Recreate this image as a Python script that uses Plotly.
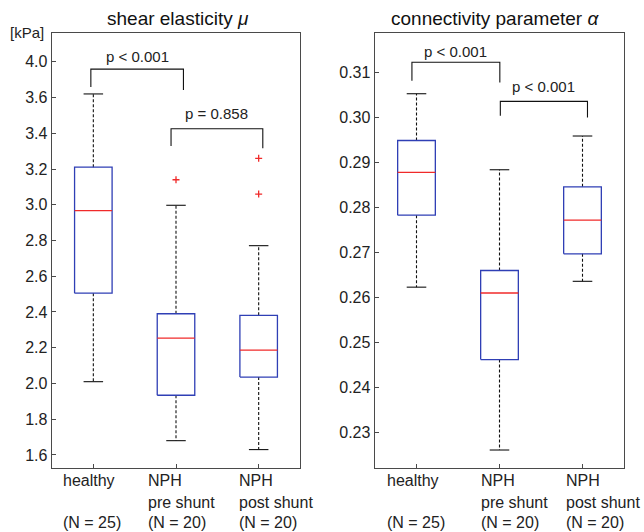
import plotly.graph_objects as go
from plotly.subplots import make_subplots

# ---------------- data ----------------
groups = ["healthy", "NPH pre shunt", "NPH post shunt"]
label_line1 = ["healthy", "NPH", "NPH"]
label_line2 = ["", "pre shunt", "post shunt"]
label_n = ["(N = 25)", "(N = 20)", "(N = 20)"]

# shear elasticity mu [kPa]
mu_low = [2.01, 1.68, 1.63]
mu_q1 = [2.505, 1.934, 2.036]
mu_med = [2.967, 2.254, 2.186]
mu_q3 = [3.21, 2.39, 2.381]
mu_high = [3.62, 2.997, 2.771]
mu_out_group = [2, 3, 3]
mu_out_val = [3.14, 3.26, 3.06]
mu_tickvals = [1.6, 1.8, 2.0, 2.2, 2.4, 2.6, 2.8, 3.0, 3.2, 3.4, 3.6, 3.8]
mu_ticktext = ["1.6", "1.8", "2.0", "2.2", "2.4", "2.6", "2.8", "3.0", "3.2", "3.4", "3.6", "4.0"]

# connectivity parameter alpha
al_low = [0.2623, 0.2261, 0.2636]
al_q1 = [0.2783, 0.2462, 0.2697]
al_med = [0.2878, 0.2610, 0.2772]
al_q3 = [0.2949, 0.2660, 0.2846]
al_high = [0.3053, 0.2884, 0.2959]
al_tickvals = [0.23, 0.24, 0.25, 0.26, 0.27, 0.28, 0.29, 0.30, 0.31]
al_ticktext = ["0.23", "0.24", "0.25", "0.26", "0.27", "0.28", "0.29", "0.30", "0.31"]

# comparisons: (group a, group b, p text)
mu_comp = [(1, 2, "p < 0.001"), (2, 3, "p = 0.858")]
al_comp = [(1, 2, "p < 0.001"), (2, 3, "p < 0.001")]

# ---------------- styling / geometry ----------------
BLUE = "#2f3fb5"
RED = "#f02a2a"
BLACK = "#111111"
AX = "#4a4a4a"
FONT = "Liberation Sans, Arial, sans-serif"
HW = 0.227   # box half width (x units)
CW = 0.118   # cap half width

W, H = 644, 532


def px(x):
    return x / W


def py(y):
    return (H - y) / H


fig = make_subplots(rows=1, cols=2)


def add_boxes(col, low, q1, med, q3, high, out_g=None, out_v=None):
    bx, by, mx, my, wx, wy, cx, cy = [], [], [], [], [], [], [], []
    for i in range(len(low)):
        p = i + 1
        bx += [p - HW, p + HW, p + HW, p - HW, p - HW, None]
        by += [q1[i], q1[i], q3[i], q3[i], q1[i], None]
        mx += [p - HW, p + HW, None]
        my += [med[i], med[i], None]
        wx += [p, p, None, p, p, None]
        wy += [q3[i], high[i], None, q1[i], low[i], None]
        cx += [p - CW, p + CW, None, p - CW, p + CW, None]
        cy += [high[i], high[i], None, low[i], low[i], None]
    fig.add_trace(go.Scatter(x=wx, y=wy, mode="lines",
                             line=dict(color=BLACK, width=1.1, dash="3px,2px"),
                             showlegend=False, hoverinfo="skip"), row=1, col=col)
    fig.add_trace(go.Scatter(x=cx, y=cy, mode="lines",
                             line=dict(color=BLACK, width=1.1),
                             showlegend=False, hoverinfo="skip"), row=1, col=col)
    fig.add_trace(go.Scatter(x=bx, y=by, mode="lines",
                             line=dict(color=BLUE, width=1.3),
                             showlegend=False, hoverinfo="skip"), row=1, col=col)
    fig.add_trace(go.Scatter(x=mx, y=my, mode="lines",
                             line=dict(color=RED, width=1.3),
                             showlegend=False, hoverinfo="skip"), row=1, col=col)
    if out_g:
        fig.add_trace(go.Scatter(x=out_g, y=out_v, mode="markers",
                                 marker=dict(symbol="cross-thin", size=5,
                                             line=dict(color=RED, width=1.3)),
                                 showlegend=False, hoverinfo="skip"), row=1, col=col)


add_boxes(1, mu_low, mu_q1, mu_med, mu_q3, mu_high, mu_out_group, mu_out_val)
add_boxes(2, al_low, al_q1, al_med, al_q3, al_high)

# brackets (layout geometry: x offsets and heights per bracket)
mu_br = [dict(dx0=-0.03, dx1=0.09, top=3.759, l0=3.659, l1=3.642, ty=3.827),
         dict(dx0=-0.06, dx1=0.05, top=3.425, l0=3.329, l1=3.316, ty=3.51)]
al_br = [dict(dx0=-0.055, dx1=0.004, top=0.3123, l0=0.3082, l1=0.3078, ty=0.3147),
         dict(dx0=0.01, dx1=0.06, top=0.3036, l0=0.3004, l1=0.3000, ty=0.3070)]

for col, comps, geo, xr, yr in [(1, mu_comp, mu_br, "x", "y"), (2, al_comp, al_br, "x2", "y2")]:
    for (a, b, txt), g in zip(comps, geo):
        x0 = a + g["dx0"]
        x1 = b + g["dx1"]
        fig.add_trace(go.Scatter(x=[x0, x0, x1, x1], y=[g["l0"], g["top"], g["top"], g["l1"]],
                                 mode="lines", line=dict(color=BLACK, width=1.1),
                                 showlegend=False, hoverinfo="skip"), row=1, col=col)
        fig.add_annotation(x=(x0 + x1) / 2, y=g["ty"], xref=xr, yref=yr, text=txt,
                           showarrow=False, font=dict(size=15, color="#222", family=FONT),
                           xanchor="center", yanchor="middle")

# category labels (left aligned, three lines)
lab_x = {1: [0.636, 1.667, 2.758], 2: [0.639, 1.773, 2.80]}
line_y = [480, 502, 522]
for col, xr in [(1, "x"), (2, "x2")]:
    for i in range(3):
        for txt, ly in zip([label_line1[i], label_line2[i], label_n[i]], line_y):
            if not txt:
                continue
            fig.add_annotation(x=lab_x[col][i], y=py(ly), xref=xr, yref="paper",
                               text=txt, showarrow=False, xanchor="left", yanchor="middle",
                               borderpad=0, borderwidth=0,
                               font=dict(size=16, color="#222", family=FONT))

# titles
fig.add_annotation(x=px(177.5), y=py(19), xref="paper", yref="paper",
                   text="shear elasticity <i>μ</i>", showarrow=False,
                   font=dict(size=19, color="#111", family=FONT), xanchor="center", yanchor="middle")
fig.add_annotation(x=px(495), y=py(19), xref="paper", yref="paper",
                   text="connectivity parameter <i>α</i>", showarrow=False,
                   font=dict(size=19, color="#111", family=FONT), xanchor="center", yanchor="middle")
fig.add_annotation(x=px(27), y=py(33), xref="paper", yref="paper",
                   text="[kPa]", showarrow=False,
                   font=dict(size=15, color="#222", family=FONT), xanchor="center", yanchor="middle")

xcommon = dict(range=[0.5, 3.5], tickvals=[1, 2, 3], showticklabels=False,
               ticks="inside", ticklen=4, tickcolor=AX, showline=True, linecolor=AX,
               linewidth=1.4, mirror=True, showgrid=False, zeroline=False, fixedrange=True)
ycommon = dict(ticks="inside", ticklen=4, tickcolor=AX, showline=True, linecolor=AX,
               linewidth=1.4, mirror=True, showgrid=False, zeroline=False,
               tickfont=dict(size=16, color="#222", family=FONT), fixedrange=True)

fig.update_layout(
    width=W, height=H,
    margin=dict(l=0, r=0, t=0, b=0),
    paper_bgcolor="white", plot_bgcolor="white",
    font=dict(family=FONT),
    xaxis=dict(domain=[px(52), px(300)], **xcommon),
    xaxis2=dict(domain=[px(375), px(624)], **xcommon),
    yaxis=dict(domain=[py(468), py(33)], range=[1.527, 3.961],
               tickvals=mu_tickvals, ticktext=mu_ticktext, **ycommon),
    yaxis2=dict(domain=[py(468), py(33)], range=[0.2221, 0.3188],
                tickvals=al_tickvals, ticktext=al_ticktext, **ycommon),
)

fig.write_html("out.html",
               config={"displayModeBar": False, "staticPlot": True},
               post_script="document.body.style.margin='0';document.body.style.overflow='hidden';")
